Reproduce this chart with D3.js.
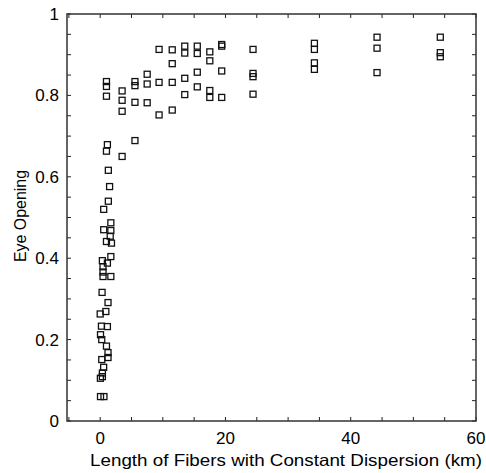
<!DOCTYPE html>
<html>
<head>
<meta charset="utf-8">
<script src="https://cdn.jsdelivr.net/npm/d3@7"></script>
<style>
  html, body { margin: 0; padding: 0; background: #fff; }
  text { font-family: "Liberation Sans", Arial, Helvetica, sans-serif; fill: #000; }
</style>
</head>
<body>
<div id="chart"></div>
<script>
// length of fiber with constant dispersion (km)
const lengthKm = [
    0.05, 0.6, 0.03, 0.35, 0.35, 0.55, 0.25, 1.25, 1.25, 1.0,
    0.25, 0.05, 0.2, 1.15, 0.9, 0.0, 1.25, 0.3,
    1.7, 0.45, 0.45, 0.45, 1.15, 0.35, 1.7, 1.8, 1.0, 1.6,
    1.7, 0.56, 1.7, 0.56, 1.3, 1.5, 1.3, 1.0, 1.15, 3.5, 5.55,
    1.0, 1.0, 1.0, 3.5, 3.5, 3.5, 5.55, 5.55, 5.55,
    7.5, 7.5, 7.5, 9.4, 9.4, 9.4, 11.5, 11.5, 11.5, 11.5,
    13.5, 13.5, 13.5, 13.5, 15.5, 15.5, 15.5, 15.5,
    17.5, 17.5, 17.5, 17.5, 19.4, 19.4, 19.4, 19.4,
    24.4, 24.4, 24.4, 24.4, 34.2, 34.2, 34.2, 34.2,
    44.2, 44.2, 44.2, 54.3, 54.3, 54.3
];
// measured eye opening
const eyeOpening = [
    0.06, 0.06, 0.105, 0.109, 0.118, 0.132, 0.151, 0.156, 0.168, 0.184,
    0.200, 0.212, 0.233, 0.232, 0.269, 0.263, 0.291, 0.316,
    0.355, 0.355, 0.366, 0.379, 0.388, 0.394, 0.404, 0.437, 0.441, 0.454,
    0.468, 0.470, 0.487, 0.520, 0.540, 0.576, 0.616, 0.663, 0.679, 0.650, 0.689,
    0.834, 0.822, 0.798, 0.811, 0.788, 0.761, 0.834, 0.824, 0.783,
    0.852, 0.828, 0.782, 0.913, 0.832, 0.752, 0.912, 0.878, 0.832, 0.764,
    0.921, 0.904, 0.842, 0.802, 0.921, 0.903, 0.857, 0.821,
    0.907, 0.885, 0.812, 0.795, 0.925, 0.921, 0.860, 0.795,
    0.913, 0.854, 0.846, 0.803, 0.928, 0.913, 0.880, 0.864,
    0.943, 0.916, 0.856, 0.943, 0.905, 0.895
];

const xTicks = [0, 20, 40, 60];
const yTicks = [0, 0.2, 0.4, 0.6, 0.8, 1];
const xMinor = d3.range(-5, 61, 5);
const yMinor = d3.range(0, 1.001, 0.05);

function drawChart() {
    const width = 486;
    const height = 473;
    const plot = { left: 67, right: 476, top: 14, bottom: 421 };
    const tickLen = 4;
    const box = 6;

    const svg = d3.select("#chart")
        .append("svg")
        .attr("width", width)
        .attr("height", height);

    const x = d3.scaleLinear().domain([-5.3, 60]).range([plot.left, plot.right]);
    const y = d3.scaleLinear().domain([0, 1]).range([plot.bottom, plot.top]);

    // ticks on all four sides, pointing inward
    const ticks = svg.append("g")
        .attr("stroke", "#222")
        .attr("stroke-width", 1);

    xMinor.forEach(v => {
        ticks.append("line")
            .attr("x1", x(v)).attr("x2", x(v))
            .attr("y1", plot.bottom).attr("y2", plot.bottom - tickLen);
        ticks.append("line")
            .attr("x1", x(v)).attr("x2", x(v))
            .attr("y1", plot.top).attr("y2", plot.top + tickLen);
    });
    yMinor.forEach(v => {
        ticks.append("line")
            .attr("x1", plot.left).attr("x2", plot.left + tickLen)
            .attr("y1", y(v)).attr("y2", y(v));
        ticks.append("line")
            .attr("x1", plot.right).attr("x2", plot.right - tickLen)
            .attr("y1", y(v)).attr("y2", y(v));
    });

    // frame
    svg.append("rect")
        .attr("x", plot.left)
        .attr("y", plot.top)
        .attr("width", plot.right - plot.left)
        .attr("height", plot.bottom - plot.top)
        .attr("fill", "none")
        .attr("stroke", "#333")
        .attr("stroke-width", 1.5);

    // tick labels
    svg.append("g")
        .selectAll("text")
        .data(xTicks)
        .enter()
        .append("text")
        .attr("x", d => x(d))
        .attr("y", 444)
        .attr("text-anchor", "middle")
        .style("font-size", "17px")
        .text(d => d);

    svg.append("g")
        .selectAll("text")
        .data(yTicks)
        .enter()
        .append("text")
        .attr("x", 59)
        .attr("y", d => y(d) + 6)
        .attr("text-anchor", "end")
        .style("font-size", "17px")
        .text(d => d3.format("~g")(d));

    // axis titles (glyphs stretched a little, like the scanned original)
    svg.append("text")
        .attr("x", 90)
        .attr("y", 466)
        .attr("textLength", 392)
        .attr("lengthAdjust", "spacingAndGlyphs")
        .style("font-size", "16.5px")
        .text("Length of Fibers with Constant Dispersion (km)");

    svg.append("text")
        .attr("transform", "translate(26, 262) rotate(-90)")
        .attr("textLength", 92)
        .attr("lengthAdjust", "spacingAndGlyphs")
        .style("font-size", "16.5px")
        .text("Eye Opening");

    // square markers
    svg.append("g")
        .selectAll("rect")
        .data(lengthKm.map((d, i) => [d, eyeOpening[i]]))
        .enter()
        .append("rect")
        .attr("x", d => x(d[0]) - box / 2)
        .attr("y", d => y(d[1]) - box / 2)
        .attr("width", box)
        .attr("height", box)
        .attr("fill", "none")
        .attr("stroke", "#111")
        .attr("stroke-width", 1.3);
}

drawChart();
</script>
</body>
</html>
